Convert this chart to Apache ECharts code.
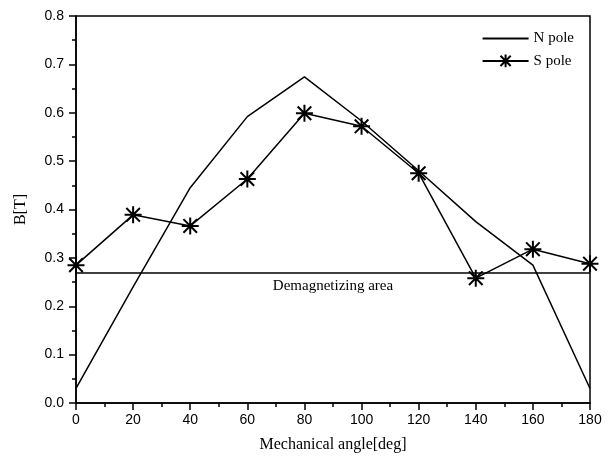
<!DOCTYPE html>
<html>
<head>
<meta charset="utf-8">
<script src="https://cdn.jsdelivr.net/npm/echarts@6/dist/echarts.min.js"></script>
<style>html,body{margin:0;padding:0;background:#fff}#c{width:615px;height:469px}</style>
</head>
<body>
<div id="c"></div>
<script>
const angles = [0, 20, 40, 60, 80, 100, 120, 140, 160, 180];
const nPole = [0.03, 0.24, 0.445, 0.592, 0.674, 0.583, 0.48, 0.375, 0.285, 0.03];
const sPole = [0.285, 0.389, 0.366, 0.463, 0.599, 0.572, 0.475, 0.258, 0.318, 0.288];
const demagLevel = 0.273;
const demagLabel = 'Demagnetizing area';
const xTitle = 'Mechanical angle[deg]';
const yTitle = 'B[T]';

const star = 'path://M0,-10L0,10M-8,-8L8,8M-8,8L8,-8M-10,0L10,0';
const chart = echarts.init(document.getElementById('c'));
const serif = 'Liberation Serif';
const sans = 'Liberation Sans';
chart.setOption({
  animation: false,
  backgroundColor: '#fff',
  grid: { left: 76, right: 25, top: 16, bottom: 66, show: true, borderColor: '#000', borderWidth: 1.5 },
  legend: {
    right: 36, top: 26, orient: 'vertical', itemGap: 6, itemWidth: 46, itemHeight: 16,
    textStyle: { fontFamily: serif, fontSize: 15, color: '#000' },
    data: [
      { name: 'N pole', itemStyle: { color: 'transparent', borderColor: 'transparent', borderWidth: 0, opacity: 0 } },
      { name: 'S pole' }
    ]
  },
  xAxis: {
    type: 'value', min: 0, max: 180, interval: 20,
    name: xTitle, nameLocation: 'middle', nameGap: 34,
    nameTextStyle: { fontFamily: serif, fontSize: 16, color: '#000' },
    axisLine: { lineStyle: { color: '#000', width: 1.5 } },
    axisTick: { inside: false, length: 7, lineStyle: { color: '#000', width: 1.5 } },
    minorTick: { show: true, splitNumber: 2, length: 4, lineStyle: { color: '#000', width: 1.5 } },
    axisLabel: { fontFamily: sans, fontSize: 14, color: '#000', margin: 10 },
    splitLine: { show: false }
  },
  yAxis: {
    type: 'value', min: 0, max: 0.8, interval: 0.1,
    name: yTitle, nameLocation: 'middle', nameGap: 47,
    nameTextStyle: { fontFamily: serif, fontSize: 16, color: '#000' },
    axisLine: { lineStyle: { color: '#000', width: 1.5 } },
    axisTick: { inside: false, length: 7, lineStyle: { color: '#000', width: 1.5 } },
    minorTick: { show: true, splitNumber: 2, length: 4, lineStyle: { color: '#000', width: 1.5 } },
    axisLabel: { fontFamily: sans, fontSize: 14, color: '#000', margin: 12, formatter: v => v.toFixed(1) },
    splitLine: { show: false }
  },
  series: [
    {
      name: 'N pole', type: 'line', symbol: 'none',
      data: angles.map((a, i) => [a, nPole[i]]),
      lineStyle: { color: '#000', width: 1.5 }, itemStyle: { color: '#000' },
      markLine: {
        silent: true, symbol: 'none',
        lineStyle: { color: '#000', width: 1.5, type: 'solid' },
        label: { show: true, position: 'insideMiddleBottom', formatter: demagLabel, fontFamily: serif, fontSize: 15, color: '#000', distance: 6 },
        data: [{ yAxis: demagLevel }]
      }
    },
    {
      name: 'S pole', type: 'line', symbol: star, symbolSize: 17, showAllSymbol: true,
      data: angles.map((a, i) => [a, sPole[i]]),
      lineStyle: { color: '#000', width: 1.5 },
      itemStyle: { color: 'none', borderColor: '#000', borderWidth: 2 }
    }
  ]
});
</script>
</body>
</html>
